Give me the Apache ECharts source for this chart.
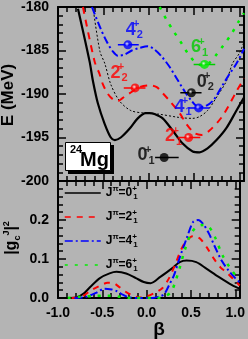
<!DOCTYPE html>
<html><head><meta charset="utf-8">
<script src="https://cdn.jsdelivr.net/npm/echarts@6/dist/echarts.min.js"></script>
<style>html,body{margin:0;padding:0;background:#b4b4b4}#c{width:248px;height:339px}</style>
</head><body><div id="c"></div>
<script>
// ---- Top panel: potential energy curves E(beta) in MeV ----
const v0Beta = [-0.78,-0.652,-0.615,-0.56,-0.487,-0.418,-0.374,-0.308,-0.212,-0.121,-0.033,0.011,0.063,0.154,0.264,0.374,0.484,0.56,0.648,0.747,0.857,0.967,1.05];
const v0E    = [-180.2,-186.25,-188.5,-191.1,-193.4,-195.0,-195.3,-195.0,-194.0,-192.8,-192.2,-192.2,-192.3,-192.8,-194.2,-195.7,-196.6,-196.7,-196.25,-195.3,-193.9,-191.9,-190.4];
const v2Beta = [-0.725,-0.597,-0.542,-0.505,-0.45,-0.396,-0.34,-0.286,-0.209,-0.099,0.011,0.088,0.154,0.231,0.341,0.418,0.505,0.582,0.67,0.802,0.879,0.956,1.05];
const v2E    = [-180,-186.25,-187.7,-188.9,-190.0,-190.6,-190.8,-190.45,-189.9,-189.2,-189.0,-189.2,-189.9,-190.8,-192.2,-193.5,-194.5,-194.7,-194.2,-192.7,-191.4,-189.9,-188.2];
const v4Beta = [-0.626,-0.538,-0.462,-0.396,-0.34,-0.264,-0.187,-0.099,-0.011,0.066,0.143,0.231,0.319,0.396,0.473,0.55,0.626,0.714,0.802,0.89,0.967,1.05];
const v4E    = [-180,-182.3,-184.0,-185.1,-185.6,-185.45,-185.0,-184.7,-184.5,-184.9,-185.7,-186.9,-188.4,-189.7,-190.8,-191.5,-191.4,-190.7,-189.2,-187.7,-186.5,-184.8];
const v6Beta = [0.121,0.198,0.275,0.363,0.429,0.505,0.593,0.67,0.747,0.824,0.912,0.989,1.05];
const v6E    = [-180,-181.5,-182.8,-184.2,-185.3,-186.25,-186.7,-186.4,-185.45,-184.4,-183.1,-181.7,-180.7];
const vcBeta = [-0.615,-0.538,-0.484,-0.418,-0.322,-0.198,-0.044,0.1,0.34,0.484,0.56,0.648,0.758,0.857,0.923,1.0,1.05];
const vcE    = [-180,-185.1,-186.5,-188.9,-190.8,-191.9,-192.2,-192.3,-192.7,-192.8,-192.6,-191.9,-190.2,-188.5,-186.5,-185.3,-184.0];

// ---- Levels ----
const levelJ    = ['0','2','4','0','2','4','6'];
const levelIdx  = ['1','1','1','2','2','2','1'];
const levelBeta = [0.17,0.44,0.55,0.47,-0.15,-0.23,0.615];
const levelE    = [-197.3,-195.0,-191.6,-189.85,-189.3,-184.35,-186.6];
const levelLo   = [0.07,0.33,0.44,0.348,-0.275,-0.34,0.495];
const levelHi   = [0.33,0.568,0.67,0.582,-0.036,-0.11,0.733];

// ---- Bottom panel: |g_c^J|^2 ----
const g0Beta = [-0.868,-0.78,-0.703,-0.634,-0.527,-0.418,-0.34,-0.231,-0.121,-0.033,0.044,0.154,0.286,0.374,0.45,0.56,0.67,0.813,0.964,1.05];
const g0Val  = [0,0.003,0.013,0.029,0.051,0.063,0.067,0.063,0.051,0.041,0.038,0.054,0.076,0.092,0.096,0.092,0.076,0.054,0.033,0.024];
const g2Beta = [-0.846,-0.736,-0.626,-0.538,-0.44,-0.374,-0.308,-0.231,-0.143,-0.066,0.011,0.088,0.176,0.253,0.319,0.385,0.45,0.527,0.604,0.681,0.758,0.835,0.901,0.989,1.05];
const g2Val  = [0,0.003,0.02,0.03,0.039,0.038,0.028,0.015,0.005,0.001,0.005,0.013,0.025,0.051,0.084,0.122,0.147,0.159,0.152,0.129,0.101,0.078,0.066,0.046,0.032];
const g4Beta = [-0.813,-0.681,-0.571,-0.473,-0.396,-0.34,-0.264,-0.187,-0.099,0.066,0.143,0.198,0.253,0.308,0.374,0.45,0.524,0.58,0.637,0.703,0.769,0.846,0.923,1.0,1.05];
const g4Val  = [0,0.003,0.013,0.024,0.022,0.018,0.008,0.001,0,0,0.004,0.01,0.033,0.058,0.104,0.152,0.195,0.2,0.19,0.165,0.132,0.096,0.071,0.051,0.04];
const g6Beta = [-0.89,-0.758,-0.593,-0.484,-0.407,-0.297,-0.187,0.121,0.209,0.275,0.33,0.374,0.429,0.495,0.56,0.626,0.703,0.769,0.857,0.945,1.022,1.05];
const g6Val  = [0,0.003,0.005,0.006,0.006,0.003,0,0,0.005,0.015,0.046,0.078,0.122,0.162,0.182,0.187,0.182,0.157,0.109,0.076,0.053,0.048];

const xTicks = [-1.0,-0.5,0.0,0.5,1.0];

const FONT = 'Liberation Sans';
const zip = (a,b)=>a.map((v,i)=>[v,b[i]]);
const levelColors = ['#000','#f00','#00f','#000','#f00','#00f','#0c0'];
const dotColors = ['#000','#f00','#00f','#000','#f00','#00f','#00ee00'];
const labelOffsets = [[-18,-2],[-15,-1],[-15.5,-1],[14,-11],[-16,-15],[6.5,-15],[-5,-17]];

const chart = echarts.init(document.getElementById('c'), null, {renderer:'canvas'});

function xAx(grid, pos, showLabel){
  return {type:'value', gridIndex:grid, position:pos, min:-1, max:1.05, interval:0.5,
    axisLine:{show:true, onZero:false, lineStyle:{color:'#000', width:2}},
    axisTick:{show:true, inside:true, length:8, lineStyle:{color:'#000', width:1.5}},
    minorTick:{show:true, splitNumber:5, length:5, lineStyle:{color:'#000', width:1.5}},
    splitLine:{show:false},
    axisLabel:{show:showLabel, inside:false, margin:8, color:'#000', fontFamily:FONT, fontWeight:'bold', fontSize:14,
      showMaxLabel:false, formatter:v=>xTicks.some(t=>Math.abs(t-v)<1e-6)?v.toFixed(1):''}};
}
function yAx(grid, pos, showLabel, min, max, interval, fmt){
  return {type:'value', gridIndex:grid, position:pos, min:min, max:max, interval:interval,
    axisLine:{show:true, onZero:false, lineStyle:{color:'#000', width:2}},
    axisTick:{show:true, inside:true, length:8, lineStyle:{color:'#000', width:1.5}},
    minorTick:{show:true, splitNumber:5, length:5, lineStyle:{color:'#000', width:1.5}},
    splitLine:{show:false},
    axisLabel:{show:showLabel, margin:9, color:'#000', fontFamily:FONT, fontWeight:'bold', fontSize:14, formatter:fmt}};
}

const series = [];
function curve(name, data, color, width, type, xi, yi){
  series.push({name:name, type:'line', xAxisIndex:xi, yAxisIndex:yi, data:data, showSymbol:false, symbol:'none',
    smooth:0.3, clip:true, lineStyle:{color:color, width:width, type:type}, itemStyle:{color:color}, z:3});
}
curve('V0', zip(v0Beta,v0E), '#000', 2.2, 'solid', 0, 0);
curve('Vc', zip(vcBeta,vcE), '#000', 1, [2,2], 0, 0);
curve('V2', zip(v2Beta,v2E), '#f00', 2, [7,6], 0, 0);
curve('V4', zip(v4Beta,v4E), '#00f', 2, [8,3,2,3], 0, 0);
curve('V6', zip(v6Beta,v6E), '#00ee00', 2.5, [3,7], 0, 0);

levelBeta.forEach((b,i)=>{
  series.push({type:'line', xAxisIndex:0, yAxisIndex:0, data:[[levelLo[i],levelE[i]],[levelHi[i],levelE[i]]],
    symbol:'none', lineStyle:{color:levelColors[i], width:1.5}, z:4, silent:true});
});
const richLab = (c)=>({
  m:{fontFamily:FONT, fontWeight:'bold', fontSize:18, lineHeight:22, color:c},
  sp:{fontFamily:FONT, fontWeight:'bold', fontSize:11, lineHeight:11, verticalAlign:'top', color:c, width:1},
  sb:{fontFamily:FONT, fontWeight:'bold', fontSize:11, lineHeight:11, verticalAlign:'bottom', color:c}
});
series.push({type:'scatter', xAxisIndex:0, yAxisIndex:0, z:6,
  data: levelBeta.map((b,i)=>({value:[b,levelE[i]],
    itemStyle:{color: i===0 ? '#000' : {type:'radial', x:0.4, y:0.4, r:0.6,
      colorStops:[{offset:0,color:'#fff'},{offset:0.4,color:dotColors[i]},{offset:1,color:dotColors[i]}]}},
    label:{show:true, position:'inside', offset:labelOffsets[i], align:'center', verticalAlign:'middle',
      formatter:'{m|'+levelJ[i]+'}{sp|+}{sb|'+levelIdx[i]+'}', rich:richLab(levelColors[i])}})),
  symbol:'circle', symbolSize:9});

curve('J0', zip(g0Beta,g0Val), '#000', 2, 'solid', 2, 2);
curve('J2', zip(g2Beta,g2Val), '#f00', 2, [6,6], 2, 2);
curve('J4', zip(g4Beta,g4Val), '#00f', 2, [8,3,2,3], 2, 2);
curve('J6', zip(g6Beta,g6Val), '#00ee00', 2.5, [3,7], 2, 2);

const option = {
  backgroundColor:'#b4b4b4',
  animation:false,
  grid:[{left:58, top:5, width:186, height:176},{left:58, top:181, width:186, height:117}],
  xAxis:[xAx(0,'bottom',false), xAx(0,'top',false), xAx(1,'bottom',true), xAx(1,'top',false)],
  yAxis:[yAx(0,'left',true,-200,-180,5,v=>String(v)), yAx(0,'right',false,-200,-180,5),
         yAx(1,'left',true,0,0.3,0.1,v=>v>0.25?'':v.toFixed(1)), yAx(1,'right',false,0,0.3,0.1)],
  legend:{show:true, data:['J0','J2','J4','J6'], orient:'vertical', left:64, top:185, itemWidth:36, itemHeight:14, itemGap:8,
    padding:0,
    itemStyle:{opacity:0},
    lineStyle:{width:1.5},
    formatter:n=>'{j|J}{p|π}{j|='+n.slice(1)+'}{sp|+}{sb|1}',
    textStyle:{color:'#000', fontFamily:FONT, fontWeight:'bold', fontSize:12,
      rich:{ j:{fontFamily:FONT, fontWeight:'bold', fontSize:12, lineHeight:16},
             p:{fontFamily:FONT, fontWeight:'bold', fontSize:8, lineHeight:8, verticalAlign:'top'},
             sp:{fontFamily:FONT, fontWeight:'bold', fontSize:8, lineHeight:8, verticalAlign:'top', width:1},
             sb:{fontFamily:FONT, fontWeight:'bold', fontSize:8, lineHeight:8, verticalAlign:'bottom'} }}},
  graphic:[
    {type:'rect', shape:{x:68, y:145, width:46, height:29}, style:{fill:'#000'}, z:10, silent:true},
    {type:'rect', shape:{x:65.5, y:142.5, width:45, height:28}, style:{fill:'#fff', stroke:'#000', lineWidth:1}, z:11, silent:true},
    {type:'text', x:70, y:144, z:12, style:{text:'24', fontFamily:FONT, fontWeight:'bold', fontSize:11, fill:'#000'}},
    {type:'text', x:80, y:150, z:12, style:{text:'Mg', fontFamily:FONT, fontWeight:'bold', fontSize:20, fill:'#000'}},
    {type:'text', x:8, y:95, rotation:Math.PI/2, z:12, style:{text:'E (MeV)', fontFamily:FONT, fontWeight:'bold', fontSize:17, fill:'#000', align:'center', verticalAlign:'middle'}},
    {type:'text', x:12, y:238, rotation:Math.PI/2, z:12, style:{text:'{m||g}{sb|c}{sp|J}{m||}{sp|2}', align:'center', verticalAlign:'middle',
      rich:{m:{fontFamily:FONT, fontWeight:'bold', fontSize:16, lineHeight:20, fill:'#000'},
            sb:{fontFamily:FONT, fontWeight:'bold', fontSize:9, lineHeight:9, verticalAlign:'bottom', fill:'#000'},
            sp:{fontFamily:FONT, fontWeight:'bold', fontSize:9, lineHeight:9, verticalAlign:'top', fill:'#000'}}}},
    {type:'text', x:159, y:330, z:12, style:{text:'β', fontFamily:FONT, fontWeight:'bold', fontSize:19, fill:'#000', align:'center', verticalAlign:'middle'}}
  ],
  series:series
};
chart.setOption(option);
</script>
</body></html>
